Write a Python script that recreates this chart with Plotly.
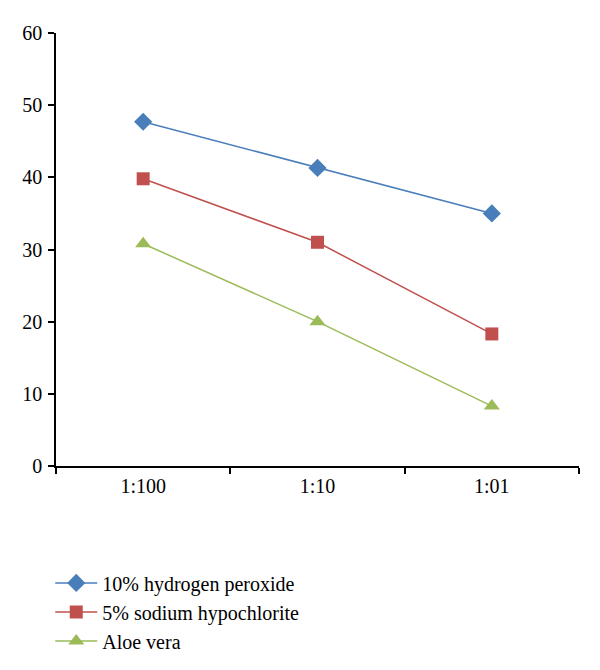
import plotly.graph_objects as go

categories = ["1:100", "1:10", "1:01"]
hydrogen_peroxide = [47.7, 41.3, 35.0]
sodium_hypochlorite = [39.8, 31.0, 18.3]
aloe_vera = [30.8, 20.0, 8.3]
y_ticks = [0, 10, 20, 30, 40, 50, 60]

series = [
    ("10% hydrogen peroxide", hydrogen_peroxide, "#4A7EBB", "diamond", 14),
    ("5% sodium hypochlorite", sodium_hypochlorite, "#C0504D", "square", 13),
    ("Aloe vera", aloe_vera, "#9BBB59", "triangle-up", 14),
]

fig = go.Figure()
for name, vals, color, sym, sz in series:
    fig.add_trace(go.Scatter(
        x=categories, y=vals, name=name, mode="lines+markers",
        line=dict(color=color, width=1.5),
        marker=dict(symbol=sym, size=sz, color=color, line=dict(width=0)),
    ))

font = dict(family="Times New Roman", size=20, color="#000000")

fig.update_layout(
    width=600, height=670,
    margin=dict(l=48, r=29, t=25, b=212, autoexpand=False),
    paper_bgcolor="white", plot_bgcolor="white",
    font=font,
    showlegend=True,
    legend=dict(x=-0.011, y=-0.225, xanchor="left", yanchor="top",
                font=font, bgcolor="rgba(0,0,0,0)", borderwidth=0,
                itemwidth=42),
    xaxis=dict(
        type="category", range=[-0.5, 2.5], showgrid=False,
        showline=True, linecolor="#000000", linewidth=1.5,
        ticks="outside", ticklen=6, tickwidth=1.5, tickcolor="#000000",
        tickson="boundaries", ticklabelstandoff=1, tickfont=font,
        zeroline=False, fixedrange=True,
    ),
    yaxis=dict(
        range=[0, 60], tickvals=y_ticks, showgrid=False,
        showline=True, linecolor="#000000", linewidth=1.5,
        ticks="outside", ticklen=6, tickwidth=1.5, tickcolor="#000000",
        ticklabelstandoff=2, tickfont=font, zeroline=False, fixedrange=True,
    ),
)

fig.write_html("out.html")
